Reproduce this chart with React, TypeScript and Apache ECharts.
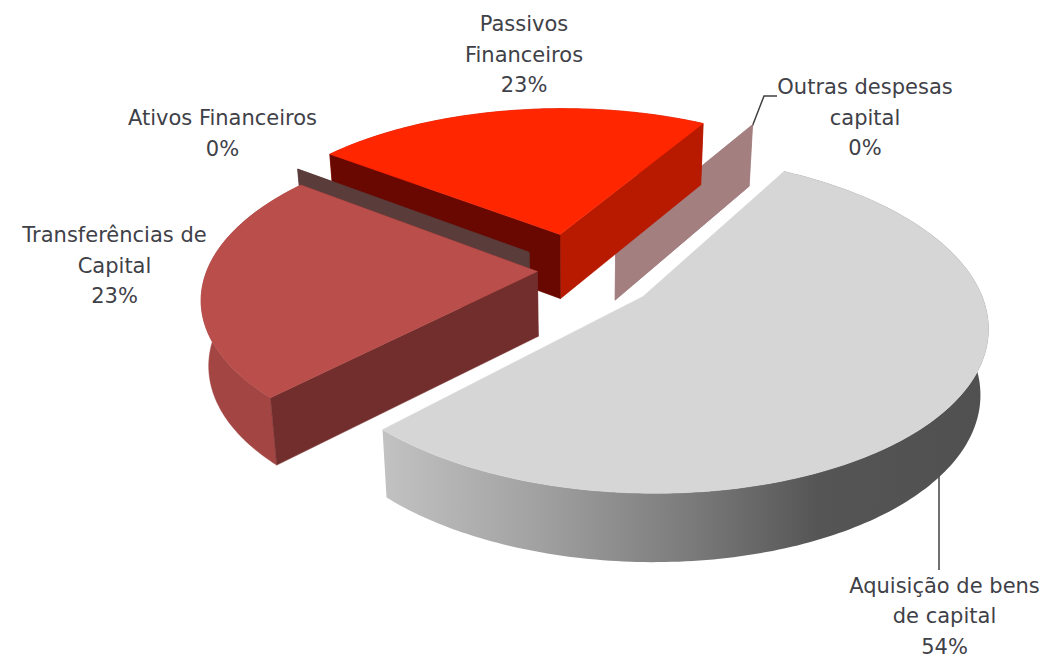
import React, { useEffect, useRef } from "react";
import * as echarts from "echarts";

const categories = ["Aquisição de bens\nde capital", "Transferências de\nCapital", "Ativos Financeiros", "Passivos\nFinanceiros", "Outras despesas\ncapital"];
const values = [54, 23, 0, 23, 0];

// presentation only
const explodeU = [0.18, -0.135, -0.163, -0.069, 0.106];
const explodeV = [0.12, -0.035, -0.16, -0.28, -0.27];
const topColors = ["#d6d6d6", "#b94e4b", "#5a3c3b", "#ff2600", "#a37f80"];
const startWall = [null, "#722e2d", "#5a3c3b", "#680800", "#a37f80"];
const endWall = [null, "#722e2d", "#5a3c3b", "#b81a00", "#a37f80"];
const drawOrder = [4, 3, 2, 1, 0];
const labelCenters = [[944.5, 585.5], [114.5, 235], [222.5, 118], [524, 24], [865, 87]];

const START = 30;
const CX = 582, CY = 277, A = 332.6, B = 158.5, H = 65, P = 0.16, P2 = 0.05, Q = 0.02;

const total = values.reduce((s, v) => s + v, 0);
const cumulative: number[] = [];
values.reduce((s, v, i) => { cumulative[i] = s; return s + v; }, 0);

function project(u: number, v: number, z: number): number[] {
  const f = 1 / (1 - v * P);
  const g = 1 / (1 - v * P2);
  return [CX + A * u * f * (1 - z * Q), CY + B * v * f + H * z * g];
}

function renderItem(params: any, api: any) {
  const i = drawOrder[params.dataIndex];
  const value = api.value(0);
  const a0 = START + (cumulative[i] / total) * 360;
  const a1 = a0 + (value / total) * 360;
  const rad = (d: number) => (d * Math.PI) / 180;
  const ex = explodeU[i];
  const ey = explodeV[i];
  const rim = (d: number, z: number) => project(ex + Math.sin(rad(d)), ey - Math.cos(rad(d)), z);
  const apex = (z: number) => project(ex, ey, z);
  const poly = (points: number[][], fill: any) => ({
    type: "polygon",
    silent: true,
    shape: { points },
    style: { fill, stroke: typeof fill === "string" ? fill : undefined, lineWidth: typeof fill === "string" ? 0.5 : 0 },
  });
  const children: any[] = [];
  const arcTop: number[][] = [];
  if (value > 0) {
    const n = Math.max(8, Math.round(a1 - a0));
    const arcBottom: number[][] = [];
    for (let k = 0; k <= n; k++) {
      const d = a0 + ((a1 - a0) * k) / n;
      arcTop.push(rim(d, 0));
      arcBottom.push(rim(d, 1));
    }
    const wallFill =
      i === 0
        ? new echarts.graphic.LinearGradient(0, 0, 1, 0, [
            { offset: 0, color: "#c2c2c2" },
            { offset: 0.25, color: "#a2a2a2" },
            { offset: 0.5, color: "#7c7c7c" },
            { offset: 0.72, color: "#555555" },
            { offset: 1, color: "#505050" },
          ])
        : i === 1
        ? "#a24543"
        : "#b81a00";
    children.push(poly([...arcTop, ...arcBottom.reverse()], wallFill));
  }
  if (endWall[i]) children.push(poly([apex(0), rim(a1, 0), rim(a1, 1), apex(1)], endWall[i]));
  if (startWall[i]) children.push(poly([apex(0), rim(a0, 0), rim(a0, 1), apex(1)], startWall[i]));
  if (value > 0) {
    children.push(poly([apex(0), ...arcTop], topColors[i]));
  }
  return { type: "group", children };
}

export default function App() {
  const ref = useRef<HTMLDivElement>(null);
  useEffect(() => {
    const chart = echarts.init(ref.current!, undefined, { renderer: "svg" });
    chart.setOption({
      animation: false,
      backgroundColor: "#ffffff",
      series: [
        {
          type: "custom",
          coordinateSystem: "none",
          renderItem,
          data: drawOrder.map((i) => [values[i]]),
        },
      ],
      graphic: [
        { type: "polyline", silent: true, shape: { points: [[752, 127], [764, 96], [777, 96]] }, style: { stroke: "#404040", lineWidth: 1.5, fill: "none" } },
        { type: "line", silent: true, shape: { x1: 939, y1: 475, x2: 939, y2: 570 }, style: { stroke: "#404040", lineWidth: 1.5 } },
        ...categories.flatMap((name, i) => {
          const lines = `${name}\n${Math.round((values[i] / total) * 100)}%`.split("\n");
          return lines.map((line, k) => ({
            type: "text",
            silent: true,
            x: labelCenters[i][0],
            y: labelCenters[i][1] + k * 30.5,
            style: {
              text: line,
              fill: "#3f4148",
              font: '21px "DejaVu Sans"',
              align: "center",
              verticalAlign: "middle",
            },
          }));
        }),
      ],
    });
    return () => chart.dispose();
  }, []);
  return <div ref={ref} style={{ position: "absolute", left: 0, top: 0, width: 1044, height: 657 }} />;
}
